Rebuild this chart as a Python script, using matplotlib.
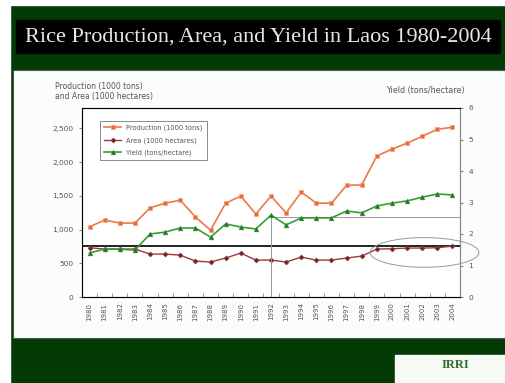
import matplotlib.pyplot as plt
from matplotlib.patches import Ellipse, Rectangle

years = list(range(1980, 2005))
production = [1040, 1140, 1095, 1095, 1320, 1390, 1435, 1185, 990, 1390, 1495,
              1230, 1495, 1245, 1555, 1390, 1390, 1655, 1660, 2090, 2190, 2280,
              2380, 2485, 2515]
area = [730, 710, 710, 710, 636, 636, 620, 532, 518, 577, 650, 547, 547, 518,
        591, 547, 547, 577, 606, 710, 715, 725, 725, 730, 754]
yield_ = [1.40, 1.52, 1.52, 1.49, 2.00, 2.06, 2.19, 2.19, 1.90, 2.32, 2.22,
          2.16, 2.60, 2.29, 2.51, 2.51, 2.51, 2.73, 2.67, 2.89, 2.98, 3.05,
          3.17, 3.27, 3.24]
left_ticks = [0, 500, 1000, 1500, 2000, 2500]
left_labels = ['0', '500', '1,000', '1,500', '2,000', '2,500']

W, H = 506, 383
fig = plt.figure(figsize=(W / 100, H / 100), dpi=100)
fig.patch.set_facecolor('#033a05')

# white borders of the slide screenshot, title band, white panel
fig.add_artist(Rectangle((0, 0), 10 / W, 1, transform=fig.transFigure,
                         color='white', zorder=0))
fig.add_artist(Rectangle((0, 1 - 5 / H), 1, 5 / H, transform=fig.transFigure,
                         color='white', zorder=0))
fig.add_artist(Rectangle((16 / W, 1 - 53 / H), 484 / W, 33 / H,
                         transform=fig.transFigure, color='black', zorder=0))
fig.text(258 / W, 1 - 37 / H, 'Rice Production, Area, and Yield in Laos 1980-2004',
         family='Liberation Serif', color='#e8e8e8', fontsize=16,
         ha='center', va='center')
fig.add_artist(Rectangle((13 / W, 1 - 338 / H), 493 / W, 268 / H,
                         transform=fig.transFigure, facecolor='#fbfdfb',
                         edgecolor='#555555', lw=0.8, zorder=0))
# IRRI logo box
fig.add_artist(Rectangle((395 / W, 0), 111 / W, 28 / H,
                         transform=fig.transFigure, color='#f6faf4', zorder=0))
fig.text(455 / W, 18 / H, 'IRRI', family='Liberation Serif', color='#2f6b2f',
         fontsize=9, ha='center', va='center', weight='bold')

ax = fig.add_axes([82 / W, 1 - 297 / H, 378 / W, 189 / H])
ax.set_facecolor('white')
x = list(range(len(years)))

ax.plot(x, production, color='#ec7848', lw=1.2, marker='s', ms=3.2,
        mfc='#e8693a', mec='#f3a07a', mew=0.5, label='Production (1000 tons)', zorder=4)
ax.plot(x, area, color='#9a3a3a', lw=1.0, marker='D', ms=2.6,
        mfc='#6e1e1e', mec='#a05050', mew=0.4, label='Area (1000 hectares)', zorder=4)
ax.axhline(760, color='#222222', lw=1.4, zorder=3)

ax.set_xlim(-0.5, len(years) - 0.5)
ax.set_ylim(0, 2800)
ax.set_yticks(left_ticks)
ax.set_yticklabels(left_labels)
ax.set_xticks(x)
ax.set_xticklabels([str(y) for y in years], rotation=90)
ax.set_xticks([i - 0.5 for i in range(1, len(years))], minor=True)
ax.tick_params(axis='x', which='major', length=0, labelsize=5,
               labelcolor='#555555', pad=4)
ax.tick_params(axis='x', which='minor', length=3, color='#888888',
               direction='in')
ax.tick_params(axis='y', labelsize=5.3, labelcolor='#555555', length=2.5,
               color='#888888')
for s in ax.spines.values():
    s.set_color('#888888')
    s.set_linewidth(0.8)

ax2 = ax.twinx()
ax2.plot(x, yield_, color='#3a9a3a', lw=1.2, marker='^', ms=3.4,
         mfc='#1f6e1f', mec='#3a9a3a', mew=0.4, label='Yield (tons/hectare)', zorder=4)
ax2.set_ylim(0, 6)
ax2.set_yticks(range(7))
ax2.tick_params(axis='y', labelsize=5.3, labelcolor='#555555', length=2.5,
                color='#888888')
ax2.spines['right'].set_color('#888888')
ax2.plot([12, 24.5], [2.55, 2.55], color='#999999', lw=0.7, zorder=2)
ax2.plot([12, 12], [0, 2.6], color='#999999', lw=0.7, zorder=2)

ell = Ellipse((22.15, 660), 7.2, 440, fill=False, edgecolor='#999999',
              lw=0.7, clip_on=False, zorder=5)
ax.add_patch(ell)

h1, l1 = ax.get_legend_handles_labels()
h2, l2 = ax2.get_legend_handles_labels()
leg = ax2.legend(h1 + h2, l1 + l2, loc='upper left',
                 bbox_to_anchor=(0.04, 0.95), fontsize=4.8, fancybox=False,
                 edgecolor='#777777', framealpha=1, handlelength=2.5,
                 labelspacing=0.9, borderpad=0.6)
for t in leg.get_texts():
    t.set_color('#555555')
leg.get_frame().set_linewidth(0.6)

fig.text(55 / W, 1 - 86 / H, 'Production (1000 tons)', fontsize=5.5,
         color='#555555', va='center')
fig.text(55 / W, 1 - 97 / H, 'and Area (1000 hectares)', fontsize=5.5,
         color='#555555', va='center')
fig.text(465 / W, 1 - 90 / H, 'Yield (tons/hectare)', fontsize=5.8,
         color='#555555', va='center', ha='right')

fig.savefig('out.png', dpi=100)
